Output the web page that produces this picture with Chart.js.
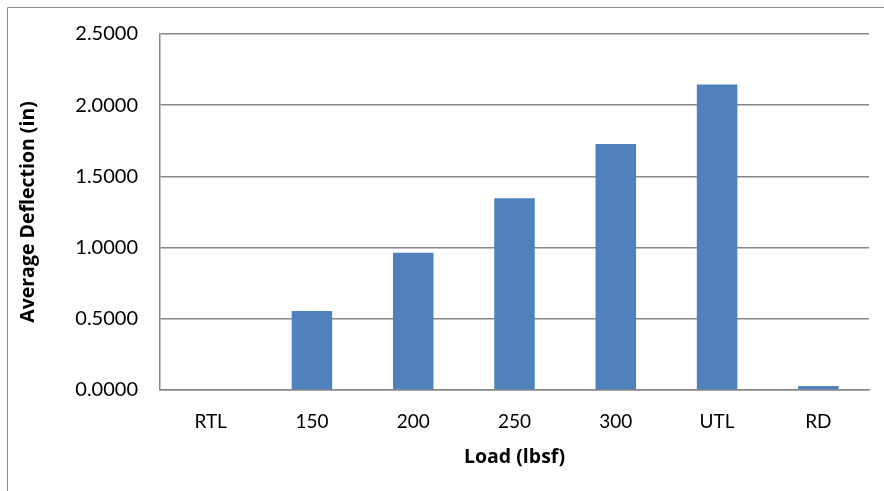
<!DOCTYPE html>
<html>
<head>
<meta charset="utf-8">
<script src="https://cdn.jsdelivr.net/npm/chart.js@4"></script>
<style>
  html, body { margin: 0; padding: 0; background: #fff; }
  #wrap { width: 884px; height: 491px; position: relative; }
</style>
</head>
<body>
<div id="wrap"><canvas id="deflectionChart" width="884" height="491"></canvas></div>
<script>
// data
const loads = ['RTL', '150', '200', '250', '300', 'UTL', 'RD'];
const avgDeflection = [0, 0.554, 0.963, 1.347, 1.727, 2.146, 0.028];
const yTicks = [0, 0.5, 1.0, 1.5, 2.0, 2.5];

const gridGrey = '#878787';
const fontFamily = 'Lato, "Open Sans", sans-serif';
const titleFamily = '"Open Sans", Lato, sans-serif';

// outer frame of the chart object (only top and left edge are visible)
const framePlugin = {
  id: 'frame',
  beforeDraw(chart) {
    const c = chart.ctx;
    c.save();
    c.fillStyle = '#fff';
    c.fillRect(0, 0, chart.width, chart.height);
    c.strokeStyle = '#8c8c8c';
    c.lineWidth = 1;
    c.beginPath();
    c.moveTo(7.5, chart.height);
    c.lineTo(7.5, 7.5);
    c.lineTo(chart.width, 7.5);
    c.stroke();
    c.restore();
  }
};

const ctx = document.getElementById('deflectionChart').getContext('2d');
new Chart(ctx, {
  type: 'bar',
  data: {
    labels: loads,
    datasets: [{
      label: 'Average Deflection (in)',
      data: avgDeflection,
      backgroundColor: '#4F81BD',
      borderWidth: 0,
      categoryPercentage: 0.8,
      barPercentage: 0.5
    }]
  },
  options: {
    responsive: false,
    animation: false,
    layout: { padding: { left: 10, right: 15, top: 33, bottom: 0 } },
    plugins: {
      legend: { display: false },
      tooltip: { enabled: false }
    },
    scales: {
      x: {
        grid: { display: false, drawTicks: false },
        border: { display: true, color: gridGrey, width: 1.5 },
        ticks: { color: '#000', font: { family: fontFamily, size: 19 }, padding: 20 },
        title: {
          display: true,
          text: 'Load (lbsf)',
          color: '#000',
          font: { family: titleFamily, size: 19.5, weight: 'bold' },
          padding: { top: 0, bottom: 22 }
        },
        afterFit(scale) { scale.height = 101; }
      },
      y: {
        min: 0,
        max: 2.5,
        afterBuildTicks(scale) { scale.ticks = yTicks.map(v => ({ value: v })); },
        grid: { color: gridGrey, lineWidth: 1.5, drawTicks: false },
        border: { display: true, color: gridGrey, width: 1.5 },
        ticks: {
          color: '#000',
          font: { family: fontFamily, size: 20 },
          padding: 22,
          callback: v => Number(v).toFixed(4)
        },
        title: {
          display: true,
          text: 'Average Deflection (in)',
          color: '#000',
          font: { family: titleFamily, size: 19.5, weight: 'bold' },
          padding: { top: 7, bottom: 0 }
        },
        afterFit(scale) { scale.width = 150; }
      }
    }
  },
  plugins: [framePlugin]
});
</script>
</body>
</html>
